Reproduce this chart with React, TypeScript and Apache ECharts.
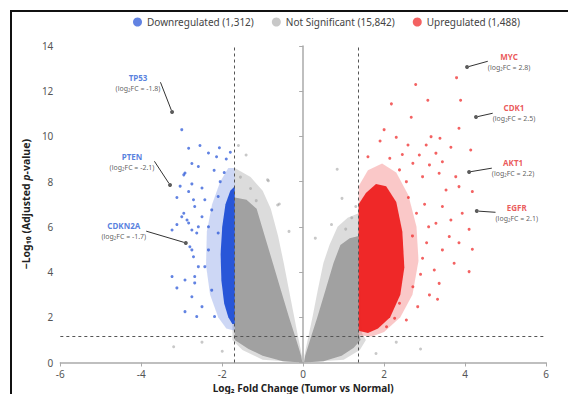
import React, { useEffect, useRef } from "react";
import * as echarts from "echarts";

// ---- Legend / categories ----
const categoryNames = ["Downregulated (1,312)", "Not Significant (15,842)", "Upregulated (1,488)"];
const categoryColors = ["#1f4fd6", "#a3a3a3", "#ee2020"];

// ---- Axis ticks ----
const xTicks = [-6, -4, -2, 0, 2, 4, 6];
const yTicks = [0, 2, 4, 6, 8, 10, 12, 14];

// ---- Thresholds ----
const fcThresholds = [-1.7, 1.37];
const pThreshold = 1.15;

// ---- Dense point clouds (envelopes: [log2FC, -log10 p]) ----
const greyLeftHalo = [[-1.69, 8.6], [-1.3, 8.2], [-1.0, 7.6], [-0.8, 6.8], [-0.62, 5.6], [-0.48, 4.4], [-0.35, 3.2], [-0.22, 2.0], [-0.11, 1.0], [-0.03, 0.3], [-0.02, 0], [-1.0, 0.12], [-1.5, 0.55], [-1.75, 1.0]];
const greyRightHalo = [[1.37, 6.6], [1.1, 6.4], [0.85, 6.0], [0.65, 5.2], [0.5, 4.4], [0.36, 3.2], [0.23, 2.0], [0.11, 1.0], [0.03, 0.3], [0.02, 0], [1.0, 0.12], [1.4, 0.55], [1.55, 1.0], [1.45, 1.3]];
const greyLeftCore = [[-1.69, 7.3], [-1.4, 7.2], [-1.15, 6.8], [-0.95, 5.6], [-0.75, 4.4], [-0.55, 3.2], [-0.35, 2.0], [-0.17, 1.0], [-0.05, 0.3], [-0.02, 0.0], [-0.5, 0.06], [-1.0, 0.3], [-1.35, 0.6], [-1.69, 1.0]];
const greyRightCore = [[0.02, 0.0], [0.05, 0.3], [0.17, 1.0], [0.35, 2.0], [0.55, 3.2], [0.75, 4.4], [0.92, 5.2], [1.15, 5.5], [1.37, 5.6], [1.37, 1.3], [1.42, 1.0], [1.25, 0.65], [0.95, 0.3], [0.5, 0.06]];
const blueHalo = [[-1.69, 1.4], [-1.69, 8.6], [-1.85, 8.6], [-2.05, 8.0], [-2.25, 7.0], [-2.38, 5.8], [-2.4, 4.3], [-2.3, 3.0], [-2.1, 2.0], [-1.9, 1.5]];
const blueCore = [[-1.69, 1.7], [-1.69, 7.8], [-1.8, 7.6], [-1.92, 7.0], [-2.0, 6.0], [-2.04, 4.8], [-2.02, 3.6], [-1.95, 2.6], [-1.85, 2.0], [-1.75, 1.7]];
const redHalo = [[1.37, 1.2], [1.37, 7.8], [1.6, 8.5], [1.95, 8.8], [2.3, 8.4], [2.6, 7.4], [2.8, 6.0], [2.85, 4.5], [2.7, 3.0], [2.4, 2.0], [2.0, 1.35], [1.7, 1.15]];
const redCore = [[1.37, 1.4], [1.37, 7.0], [1.55, 7.5], [1.8, 7.9], [2.05, 7.8], [2.3, 7.1], [2.45, 5.8], [2.5, 4.2], [2.4, 3.0], [2.15, 2.0], [1.85, 1.5], [1.6, 1.3]];

// ---- Individually visible points ----
const blueOutliers = [
  [-3.0, 10.3], [-2.83, 9.48], [-2.55, 9.6], [-2.95, 8.3], [-2.75, 8.8], [-3.04, 7.8], [-2.75, 7.9], [-3.12, 7.3],
  [-2.71, 7.2], [-2.34, 9.27], [-2.14, 9.1], [-2.07, 9.5], [-2.92, 8.38], [-2.59, 8.67], [-2.5, 7.72], [-2.83, 7.56],
  [-2.95, 6.6], [-2.68, 6.9], [-2.43, 7.2], [-3.12, 6.1], [-2.87, 6.3], [-3.24, 5.86], [-2.75, 5.86], [-2.5, 6.45],
  [-2.34, 6.0], [-2.26, 6.75], [-2.1, 7.34], [-3.0, 6.45], [-2.83, 6.17], [-2.63, 5.73], [-2.71, 4.68], [-2.59, 4.24],
  [-3.24, 3.8], [-2.92, 3.65], [-3.12, 3.3], [-2.75, 2.91], [-2.92, 2.25], [-2.63, 2.03], [-2.68, 3.8], [-2.8, 5.12],
  [-2.59, 6.0], [-2.75, 4.98], [-2.43, 4.24], [-2.68, 3.52], [-2.26, 3.2], [-2.5, 2.47], [-2.19, 2.03], [-2.1, 5.73],
  [-2.34, 4.98], [-1.9, 9.0], [-1.8, 9.3], [-2.2, 8.5], [-1.95, 8.4], [-2.05, 8.0]
];
const greyOutliers = [
  [-1.41, 9.18], [-0.86, 8.04], [0.84, 8.55], [-0.59, 7.01], [-1.16, 7.16], [0.96, 7.26], [-0.63, 6.97], [-0.88, 8.08],
  [-1.55, 8.2], [-1.3, 7.7], [1.2, 6.4], [1.05, 5.9], [0.7, 6.1], [1.3, 6.9], [-0.35, 5.8], [0.3, 5.5], [-1.6, 9.6],
  [-2.5, 0.9], [-3.2, 0.7], [2.3, 0.9], [2.9, 0.6], [-2.0, 0.5], [1.8, 0.4]
];
const redOutliers = [
  [3.79, 12.6], [2.78, 12.3], [3.08, 11.6], [3.89, 11.6], [2.18, 11.44], [2.67, 10.85], [3.85, 10.36], [2.3, 9.96],
  [3.16, 9.99], [3.38, 9.92], [2.59, 9.62], [3.04, 9.62], [3.65, 9.52], [4.14, 9.4], [2.87, 9.18], [3.28, 9.26],
  [2.14, 9.03], [2.71, 8.81], [3.12, 8.74], [3.44, 8.88], [3.77, 8.22], [4.18, 7.56], [3.36, 8.37], [2.38, 8.52],
  [2.95, 8.22], [3.85, 7.78], [3.53, 7.63], [3.93, 6.6], [4.1, 5.89], [3.85, 5.3], [4.18, 5.01], [3.73, 4.39],
  [4.1, 4.02], [3.36, 3.5], [3.12, 2.99], [3.32, 2.8], [2.83, 2.47], [2.55, 1.88], [2.26, 1.96], [2.06, 1.58],
  [3.61, 5.57], [3.44, 4.98], [3.24, 4.09], [3.65, 6.3], [3.44, 6.9], [3.28, 6.16], [2.95, 4.61], [2.71, 3.35],
  [2.38, 2.62], [2.6, 7.3], [2.8, 6.6], [3.0, 7.0], [2.7, 5.6], [3.05, 5.3], [2.9, 3.9], [3.1, 6.0], [2.55, 8.0],
  [2.45, 9.2], [1.9, 9.8], [1.6, 9.1], [2.0, 10.3]
];

// ---- Highlighted genes ----
const geneNames = ["TP53", "PTEN", "CDKN2A", "MYC", "CDK1", "AKT1", "EGFR"];
const geneLabelFC = ["-1.8", "-2.1", "-1.7", "2.8", "2.5", "2.2", "2.1"];
const geneX = [-3.24, -3.29, -2.9, 4.05, 4.27, 4.1, 4.29];
const geneY = [11.08, 7.85, 5.29, 13.07, 10.86, 8.43, 6.7];
const geneLabelOffsets = [[-34, -30], [-38, -24], [-62, -12], [42, -6], [38, -4], [44, -4], [40, 1]];

const polys = [
  { pts: greyLeftHalo, color: "#b9b9b9", opacity: 0.5 },
  { pts: greyRightHalo, color: "#b9b9b9", opacity: 0.5 },
  { pts: greyLeftCore, color: "#9d9d9d", opacity: 0.95 },
  { pts: greyRightCore, color: "#9d9d9d", opacity: 0.95 },
  { pts: blueHalo, color: "#4a70dc", opacity: 0.28 },
  { pts: redHalo, color: "#f04a4a", opacity: 0.3 },
  { pts: blueCore, color: "#1f4fd6", opacity: 0.95 },
  { pts: redCore, color: "#ee2020", opacity: 0.95 },
];

const FONT = "'Noto Sans', 'Open Sans', sans-serif";

export default function App() {
  const ref = useRef<HTMLDivElement>(null);
  useEffect(() => {
    document.documentElement.style.overflow = "hidden";
    document.body.style.overflow = "hidden";
    const chart = echarts.init(ref.current!, null, { renderer: "svg" });
    const geneIsUp = geneX.map((x) => x > 0);
    const option: any = {
      animation: false,
      textStyle: { fontFamily: FONT },
      legend: {
        top: 0,
        left: 116,
        icon: "circle",
        itemWidth: 9,
        itemHeight: 9,
        itemGap: 18,
        selectedMode: false,
        textStyle: { fontSize: 10, color: "#444", fontFamily: FONT },
        data: categoryNames.map((n, i) => ({ name: n, itemStyle: { color: categoryColors[i] } })),
      },
      grid: { left: 44, right: 42, top: 34, bottom: 45.5 },
      xAxis: {
        type: "value",
        min: xTicks[0],
        max: xTicks[xTicks.length - 1],
        interval: 2,
        name: "Log₂ Fold Change (Tumor vs Normal)",
        nameLocation: "middle",
        nameGap: 17,
        nameTextStyle: { fontSize: 10, fontWeight: "bold", color: "#222", fontFamily: FONT },
        axisLine: { lineStyle: { color: "#aaa", width: 1.5 } },
        axisTick: { show: true, length: 4, lineStyle: { color: "#aaa" } },
        axisLabel: { fontSize: 10, color: "#555", margin: 6, fontFamily: FONT },
        splitLine: { show: false },
      },
      yAxis: {
        type: "value",
        min: yTicks[0],
        max: yTicks[yTicks.length - 1],
        interval: 2,
        name: "−Log₁₀ (Adjusted {i|p}-value)",
        nameLocation: "middle",
        nameRotate: 90,
        nameGap: 26,
        nameTextStyle: {
          fontSize: 10.5, fontWeight: "bold", color: "#222", fontFamily: FONT,
          rich: { i: { fontStyle: "italic", fontWeight: "bold", fontSize: 10.5, color: "#222", fontFamily: FONT } },
        },
        axisLine: { show: true, lineStyle: { color: "#aaa", width: 1.5 } },
        axisTick: { show: true, length: 4, lineStyle: { color: "#aaa" } },
        axisLabel: { fontSize: 10, color: "#555", margin: 7, fontFamily: FONT },
        splitLine: { show: false },
      },
      series: [
        {
          type: "custom",
          clip: true,
          silent: true,
          z: 1,
          data: polys.map((p) => p.pts[0]),
          encode: { x: 0, y: 1 },
          renderItem: (params: any, api: any) => {
            const p = polys[params.dataIndex];
            return {
              type: "polygon",
              shape: { points: p.pts.map((v) => api.coord(v)) },
              style: { fill: p.color, opacity: p.opacity },
            };
          },
          markLine: {
            silent: true,
            symbol: "none",
            label: { show: false },
            lineStyle: { type: [3, 3], color: "#555", width: 1 },
            data: [
              { xAxis: fcThresholds[0] },
              { xAxis: fcThresholds[1] },
              { yAxis: pThreshold },
            ],
          },
        },
        {
          name: categoryNames[0],
          type: "scatter",
          z: 3,
          symbolSize: 3,
          itemStyle: { color: categoryColors[0], opacity: 0.7 },
          data: blueOutliers,
        },
        {
          name: categoryNames[1],
          type: "scatter",
          z: 3,
          symbolSize: 3,
          itemStyle: { color: categoryColors[1], opacity: 0.6 },
          data: greyOutliers,
        },
        {
          name: categoryNames[2],
          type: "scatter",
          z: 3,
          symbolSize: 3,
          itemStyle: { color: categoryColors[2], opacity: 0.7 },
          data: redOutliers,
        },
        {
          type: "scatter",
          z: 5,
          symbolSize: 4,
          itemStyle: { color: "#333" },
          data: geneNames.map((n, i) => ({
            value: [geneX[i], geneY[i]],
            label: {
              formatter: `{n${geneIsUp[i] ? "u" : "d"}|${n}}\n{f|(log₂FC = ${geneLabelFC[i]})}`,
            },
          })),
          label: {
            show: true,
            position: "inside",
            align: "center",
            fontFamily: FONT,
            rich: {
              nd: { fontSize: 8, fontWeight: "bold", color: "#2d5fd6", lineHeight: 12, fontFamily: FONT },
              nu: { fontSize: 8, fontWeight: "bold", color: "#e53030", lineHeight: 12, fontFamily: FONT },
              f: { fontSize: 7, color: "#333", lineHeight: 10, fontFamily: FONT },
            },
          },
          labelLayout: (params: any) => ({
            dx: geneLabelOffsets[params.dataIndex][0],
            dy: geneLabelOffsets[params.dataIndex][1],
          }),
          labelLine: { show: true, lineStyle: { color: "#333", width: 1 } },
        },
      ],
    };
    chart.setOption(option);
    return () => chart.dispose();
  }, []);
  return (
    <div
      style={{
        position: "absolute",
        left: 10,
        top: 10,
        width: 580,
        height: 400,
        border: "2px solid #111",
        boxSizing: "border-box",
        background: "#fff",
      }}
    >
      <div ref={ref} style={{ width: 576, height: 396 }} />
    </div>
  );
}
